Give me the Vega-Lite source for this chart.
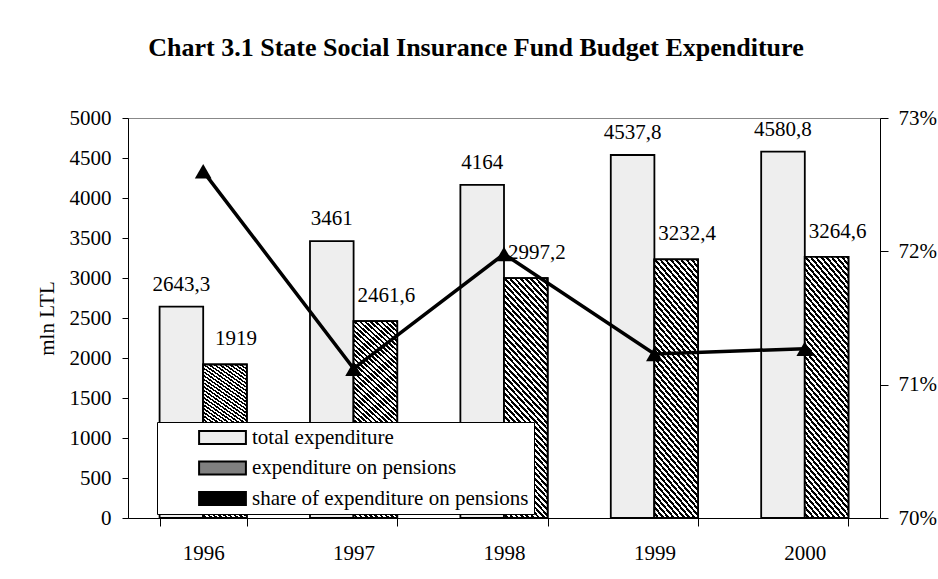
{
  "$schema": "https://vega.github.io/schema/vega-lite/v6.json",
  "width": 752,
  "height": 400,
  "autosize": {"type": "none"},
  "padding": {"left": 128, "top": 118, "right": 58, "bottom": 61},
  "background": "white",
  "title": {
    "text": "Chart 3.1 State Social Insurance Fund Budget Expenditure",
    "font": "Liberation Serif", "fontSize": 26, "fontWeight": "bold", "color": "black",
    "anchor": "middle", "frame": "group", "dx": -28, "offset": 25, "baseline": "alphabetic"
  },
  "config": {
    "locale": {"number": {"decimal": ",", "thousands": " ", "grouping": [3], "currency": ["", ""]}},
    "view": {"stroke": "#888888"},
    "axis": {
      "labelFont": "Liberation Serif", "labelFontSize": 21, "labelColor": "black",
      "titleFont": "Liberation Serif", "titleFontSize": 21, "titleFontWeight": "normal", "titleColor": "black",
      "domainColor": "black", "tickColor": "black", "grid": false
    }
  },
  "data": {
    "values": [
      {"year": "1996", "series": "total expenditure", "value": 2643.3},
      {"year": "1997", "series": "total expenditure", "value": 3461},
      {"year": "1998", "series": "total expenditure", "value": 4164},
      {"year": "1999", "series": "total expenditure", "value": 4537.8},
      {"year": "2000", "series": "total expenditure", "value": 4580.8},
      {"year": "1996", "series": "expenditure on pensions", "value": 1919},
      {"year": "1997", "series": "expenditure on pensions", "value": 2461.6},
      {"year": "1998", "series": "expenditure on pensions", "value": 2997.2},
      {"year": "1999", "series": "expenditure on pensions", "value": 3232.4},
      {"year": "2000", "series": "expenditure on pensions", "value": 3264.6},
      {"year": "1996", "series": "share of expenditure on pensions", "value": 0.726},
      {"year": "1997", "series": "share of expenditure on pensions", "value": 0.7112},
      {"year": "1998", "series": "share of expenditure on pensions", "value": 0.7198},
      {"year": "1999", "series": "share of expenditure on pensions", "value": 0.7123},
      {"year": "2000", "series": "share of expenditure on pensions", "value": 0.7127}
    ]
  },
  "encoding": {
    "x": {
      "field": "year", "type": "ordinal",
      "scale": {"paddingInner": 0.42, "paddingOuter": 0.21},
      "axis": {"title": null, "labelAngle": 0, "tickBand": "extent", "tickSize": 8, "labelPadding": 16}
    }
  },
  "layer": [
    {
      "transform": [{"filter": "datum.series !== 'share of expenditure on pensions'"}],
      "encoding": {
        "xOffset": {"field": "series", "type": "nominal", "scale": {"domain": ["total expenditure", "expenditure on pensions"]}},
        "y": {
          "field": "value", "type": "quantitative",
          "scale": {"domain": [0, 5000], "nice": false},
          "axis": {"title": "mln LTL", "format": "d", "values": [0, 500, 1000, 1500, 2000, 2500, 3000, 3500, 4000, 4500, 5000], "tickSize": 6, "labelPadding": 11, "titlePadding": 12}
        }
      },
      "layer": [
        {
          "mark": {"type": "bar", "stroke": "black", "strokeWidth": 1.8},
          "encoding": {
            "fill": {
              "field": "series", "type": "nominal",
              "scale": {"domain": ["total expenditure", "expenditure on pensions", "share of expenditure on pensions"], "range": ["#eeeeee", "#808080", "#000000"]},
              "legend": {
                "title": null, "orient": "none", "legendX": 29, "legendY": 304,
                "padding": 5, "rowPadding": 8.5, "fillColor": "white", "strokeColor": "black",
                "labelFont": "Liberation Serif", "labelFontSize": 21, "labelColor": "black", "labelLimit": 500,
                "symbolType": "M-3.9,-1.08H3.9V1.08H-3.9Z",
                "symbolSize": 144, "symbolOffset": 50, "labelOffset": 19,
                "symbolStrokeColor": "black", "symbolStrokeWidth": 2
              }
            }
          }
        },
        {
          "transform": [{"filter": "datum.series === 'expenditure on pensions'"}],
          "mark": {
            "type": "bar", "stroke": "black", "strokeWidth": 1.8,
            "fill": {
              "gradient": "linear", "x1": 0, "y1": 1, "x2": 0.2308, "y2": -0.154,
              "stops": [
                {"offset": 0, "color": "white"},
                {"offset": 0.01, "color": "white"}, {"offset": 0.01, "color": "black"},
                {"offset": 0.02, "color": "black"}, {"offset": 0.02, "color": "white"},
                {"offset": 0.03, "color": "white"}, {"offset": 0.03, "color": "black"},
                {"offset": 0.04, "color": "black"}, {"offset": 0.04, "color": "white"},
                {"offset": 0.05, "color": "white"}, {"offset": 0.05, "color": "black"},
                {"offset": 0.06, "color": "black"}, {"offset": 0.06, "color": "white"},
                {"offset": 0.07, "color": "white"}, {"offset": 0.07, "color": "black"},
                {"offset": 0.08, "color": "black"}, {"offset": 0.08, "color": "white"},
                {"offset": 0.09, "color": "white"}, {"offset": 0.09, "color": "black"},
                {"offset": 0.1, "color": "black"}, {"offset": 0.1, "color": "white"},
                {"offset": 0.11, "color": "white"}, {"offset": 0.11, "color": "black"},
                {"offset": 0.12, "color": "black"}, {"offset": 0.12, "color": "white"},
                {"offset": 0.13, "color": "white"}, {"offset": 0.13, "color": "black"},
                {"offset": 0.14, "color": "black"}, {"offset": 0.14, "color": "white"},
                {"offset": 0.15, "color": "white"}, {"offset": 0.15, "color": "black"},
                {"offset": 0.16, "color": "black"}, {"offset": 0.16, "color": "white"},
                {"offset": 0.17, "color": "white"}, {"offset": 0.17, "color": "black"},
                {"offset": 0.18, "color": "black"}, {"offset": 0.18, "color": "white"},
                {"offset": 0.19, "color": "white"}, {"offset": 0.19, "color": "black"},
                {"offset": 0.2, "color": "black"}, {"offset": 0.2, "color": "white"},
                {"offset": 0.21, "color": "white"}, {"offset": 0.21, "color": "black"},
                {"offset": 0.22, "color": "black"}, {"offset": 0.22, "color": "white"},
                {"offset": 0.23, "color": "white"}, {"offset": 0.23, "color": "black"},
                {"offset": 0.24, "color": "black"}, {"offset": 0.24, "color": "white"},
                {"offset": 0.25, "color": "white"}, {"offset": 0.25, "color": "black"},
                {"offset": 0.26, "color": "black"}, {"offset": 0.26, "color": "white"},
                {"offset": 0.27, "color": "white"}, {"offset": 0.27, "color": "black"},
                {"offset": 0.28, "color": "black"}, {"offset": 0.28, "color": "white"},
                {"offset": 0.29, "color": "white"}, {"offset": 0.29, "color": "black"},
                {"offset": 0.3, "color": "black"}, {"offset": 0.3, "color": "white"},
                {"offset": 0.31, "color": "white"}, {"offset": 0.31, "color": "black"},
                {"offset": 0.32, "color": "black"}, {"offset": 0.32, "color": "white"},
                {"offset": 0.33, "color": "white"}, {"offset": 0.33, "color": "black"},
                {"offset": 0.34, "color": "black"}, {"offset": 0.34, "color": "white"},
                {"offset": 0.35, "color": "white"}, {"offset": 0.35, "color": "black"},
                {"offset": 0.36, "color": "black"}, {"offset": 0.36, "color": "white"},
                {"offset": 0.37, "color": "white"}, {"offset": 0.37, "color": "black"},
                {"offset": 0.38, "color": "black"}, {"offset": 0.38, "color": "white"},
                {"offset": 0.39, "color": "white"}, {"offset": 0.39, "color": "black"},
                {"offset": 0.4, "color": "black"}, {"offset": 0.4, "color": "white"},
                {"offset": 0.41, "color": "white"}, {"offset": 0.41, "color": "black"},
                {"offset": 0.42, "color": "black"}, {"offset": 0.42, "color": "white"},
                {"offset": 0.43, "color": "white"}, {"offset": 0.43, "color": "black"},
                {"offset": 0.44, "color": "black"}, {"offset": 0.44, "color": "white"},
                {"offset": 0.45, "color": "white"}, {"offset": 0.45, "color": "black"},
                {"offset": 0.46, "color": "black"}, {"offset": 0.46, "color": "white"},
                {"offset": 0.47, "color": "white"}, {"offset": 0.47, "color": "black"},
                {"offset": 0.48, "color": "black"}, {"offset": 0.48, "color": "white"},
                {"offset": 0.49, "color": "white"}, {"offset": 0.49, "color": "black"},
                {"offset": 0.5, "color": "black"}, {"offset": 0.5, "color": "white"},
                {"offset": 0.51, "color": "white"}, {"offset": 0.51, "color": "black"},
                {"offset": 0.52, "color": "black"}, {"offset": 0.52, "color": "white"},
                {"offset": 0.53, "color": "white"}, {"offset": 0.53, "color": "black"},
                {"offset": 0.54, "color": "black"}, {"offset": 0.54, "color": "white"},
                {"offset": 0.55, "color": "white"}, {"offset": 0.55, "color": "black"},
                {"offset": 0.56, "color": "black"}, {"offset": 0.56, "color": "white"},
                {"offset": 0.57, "color": "white"}, {"offset": 0.57, "color": "black"},
                {"offset": 0.58, "color": "black"}, {"offset": 0.58, "color": "white"},
                {"offset": 0.59, "color": "white"}, {"offset": 0.59, "color": "black"},
                {"offset": 0.6, "color": "black"}, {"offset": 0.6, "color": "white"},
                {"offset": 0.61, "color": "white"}, {"offset": 0.61, "color": "black"},
                {"offset": 0.62, "color": "black"}, {"offset": 0.62, "color": "white"},
                {"offset": 0.63, "color": "white"}, {"offset": 0.63, "color": "black"},
                {"offset": 0.64, "color": "black"}, {"offset": 0.64, "color": "white"},
                {"offset": 0.65, "color": "white"}, {"offset": 0.65, "color": "black"},
                {"offset": 0.66, "color": "black"}, {"offset": 0.66, "color": "white"},
                {"offset": 0.67, "color": "white"}, {"offset": 0.67, "color": "black"},
                {"offset": 0.68, "color": "black"}, {"offset": 0.68, "color": "white"},
                {"offset": 0.69, "color": "white"}, {"offset": 0.69, "color": "black"},
                {"offset": 0.7, "color": "black"}, {"offset": 0.7, "color": "white"},
                {"offset": 0.71, "color": "white"}, {"offset": 0.71, "color": "black"},
                {"offset": 0.72, "color": "black"}, {"offset": 0.72, "color": "white"},
                {"offset": 0.73, "color": "white"}, {"offset": 0.73, "color": "black"},
                {"offset": 0.74, "color": "black"}, {"offset": 0.74, "color": "white"},
                {"offset": 0.75, "color": "white"}, {"offset": 0.75, "color": "black"},
                {"offset": 0.76, "color": "black"}, {"offset": 0.76, "color": "white"},
                {"offset": 0.77, "color": "white"}, {"offset": 0.77, "color": "black"},
                {"offset": 0.78, "color": "black"}, {"offset": 0.78, "color": "white"},
                {"offset": 0.79, "color": "white"}, {"offset": 0.79, "color": "black"},
                {"offset": 0.8, "color": "black"}, {"offset": 0.8, "color": "white"},
                {"offset": 0.81, "color": "white"}, {"offset": 0.81, "color": "black"},
                {"offset": 0.82, "color": "black"}, {"offset": 0.82, "color": "white"},
                {"offset": 0.83, "color": "white"}, {"offset": 0.83, "color": "black"},
                {"offset": 0.84, "color": "black"}, {"offset": 0.84, "color": "white"},
                {"offset": 0.85, "color": "white"}, {"offset": 0.85, "color": "black"},
                {"offset": 0.86, "color": "black"}, {"offset": 0.86, "color": "white"},
                {"offset": 0.87, "color": "white"}, {"offset": 0.87, "color": "black"},
                {"offset": 0.88, "color": "black"}, {"offset": 0.88, "color": "white"},
                {"offset": 0.89, "color": "white"}, {"offset": 0.89, "color": "black"},
                {"offset": 0.9, "color": "black"}, {"offset": 0.9, "color": "white"},
                {"offset": 0.91, "color": "white"}, {"offset": 0.91, "color": "black"},
                {"offset": 0.92, "color": "black"}, {"offset": 0.92, "color": "white"},
                {"offset": 0.93, "color": "white"}, {"offset": 0.93, "color": "black"},
                {"offset": 0.94, "color": "black"}, {"offset": 0.94, "color": "white"},
                {"offset": 0.95, "color": "white"}, {"offset": 0.95, "color": "black"},
                {"offset": 0.96, "color": "black"}, {"offset": 0.96, "color": "white"},
                {"offset": 0.97, "color": "white"}, {"offset": 0.97, "color": "black"},
                {"offset": 0.98, "color": "black"}, {"offset": 0.98, "color": "white"},
                {"offset": 0.99, "color": "white"}, {"offset": 0.99, "color": "black"},
                {"offset": 1, "color": "black"}
              ]
            }
          }
        },
        {
          "transform": [{"filter": "datum.series === 'total expenditure'"}],
          "mark": {"type": "text", "font": "Liberation Serif", "fontSize": 21, "color": "black", "baseline": "alphabetic", "align": "center", "dy": -16},
          "encoding": {"text": {"field": "value", "type": "quantitative", "format": ".5~r"}}
        },
        {
          "transform": [{"filter": "datum.series === 'expenditure on pensions'"}],
          "mark": {"type": "text", "font": "Liberation Serif", "fontSize": 21, "color": "black", "baseline": "alphabetic", "align": "center", "dx": 11, "dy": -19},
          "encoding": {"text": {"field": "value", "type": "quantitative", "format": ".5~r"}}
        }
      ]
    },
    {
      "transform": [{"filter": "datum.series === 'share of expenditure on pensions'"}],
      "encoding": {
        "y": {
          "field": "value", "type": "quantitative",
          "scale": {"domain": [0.7, 0.73], "nice": false, "zero": false},
          "axis": {"orient": "right", "title": null, "format": ".0%", "values": [0.7, 0.71, 0.72, 0.73], "tickSize": 8, "labelPadding": 10}
        }
      },
      "layer": [
        {"mark": {"type": "line", "color": "black", "strokeWidth": 3.5}},
        {"mark": {"type": "point", "shape": "triangle-up", "filled": true, "color": "black", "opacity": 1, "size": 280}}
      ]
    }
  ],
  "resolve": {"scale": {"y": "independent"}, "axis": {"y": "independent"}}
}
